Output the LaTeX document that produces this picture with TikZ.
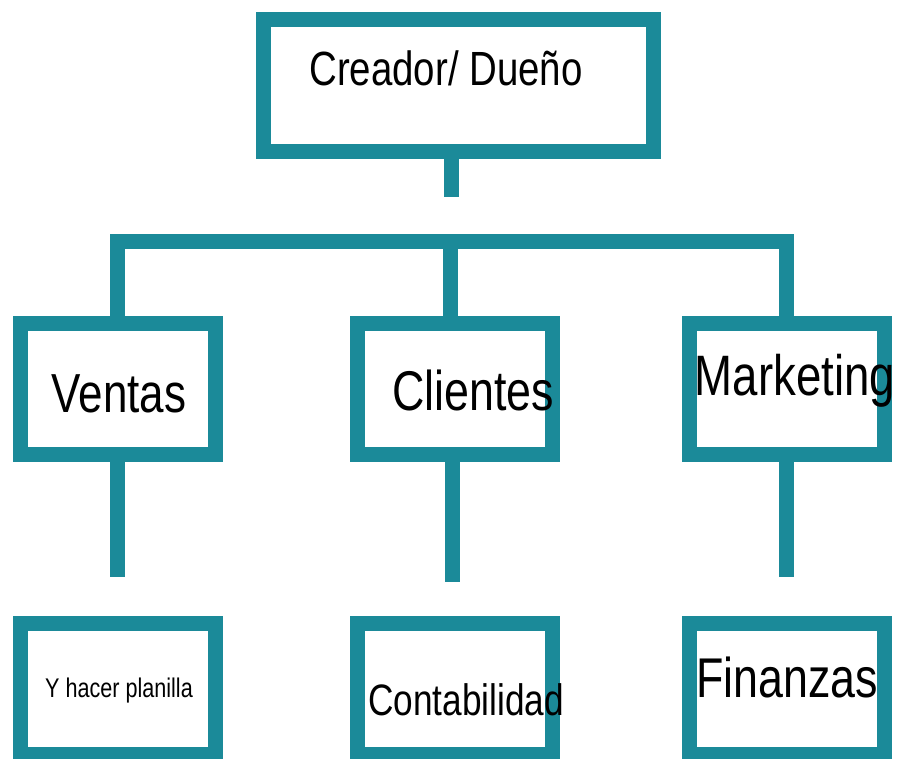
\documentclass[tikz,border=0pt]{standalone}
\usepackage{fontspec}
\newfontfamily\condfont[FakeStretch=0.8]{Liberation Sans}
\definecolor{teal}{RGB}{27,138,153}
\tikzset{
  box/.style={draw=teal,line width=15pt,minimum width=195pt,minimum height=131pt,inner sep=0pt},
  link/.style={draw=teal,line width=15pt,line join=miter,line cap=butt},
  lbl/.style={anchor=base,inner sep=0pt,text=black}
}
\newcommand{\fs}[1]{\condfont\fontsize{#1}{#1}\selectfont}
\begin{document}
\begin{tikzpicture}[x=1pt,y=-1pt]
            \useasboundingbox (0,0) rectangle (901,758);
            \clip (0,0) rectangle (901,758);
            % Nodes
            \node[box,minimum width=390pt,minimum height=132pt] (creador) at (458.5,85.5){};
            \node[box] (ventas) at (117.5,389){};
            \node[box] (clientes) at (454.75,389){};
            \node[box] (marketing) at (786.5,389){};
            \node[box] (planilla) at (117.5,689){};
            \node[box] (contab) at (454.75,689){};
            \node[box] (finanzas) at (786.5,689){};
            \coordinate (topstub) at (451.5,197);
            \coordinate (barL) at (117.5,241);
            \coordinate (barM) at (450,241);
            \coordinate (barR) at (786.5,241);
            \coordinate (ventasstub) at (117.5,577);
            \coordinate (clientesstub) at (452,582);
            \coordinate (marketingstub) at (786.5,577);
            % Labels
            \node[lbl,font=\fs{48}] (creadorT) at (446,85){Creador/ Dueño};
            \node[lbl,font=\fs{55}] (ventasT) at (119,412){Ventas};
            \node[lbl,font=\fs{56}] (clientesT) at (473,410){Clientes};
            \node[lbl,font=\fs{57}] (marketingT) at (795,395){Marketing};
            \node[lbl,font=\fs{27}] (planillaT) at (119,697){Y hacer planilla};
            \node[lbl,font=\fs{44}] (contabT) at (466,715){Contabilidad};
            \node[lbl,font=\fs{56}] (finanzasT) at (787,697){Finanzas};
            % Edges
            \path[link] (creador.south -| topstub) -- (topstub);
            \path[link] (ventas.north) -- (barL) -- (barR) -- (marketing.north);
            \path[link] (barM) -- (barM |- clientes.north);
            \path[link] (ventas.south) -- (ventasstub);
            \path[link] (clientes.south -| clientesstub) -- (clientesstub);
            \path[link] (marketing.south) -- (marketingstub);
        \end{tikzpicture}
\end{document}
